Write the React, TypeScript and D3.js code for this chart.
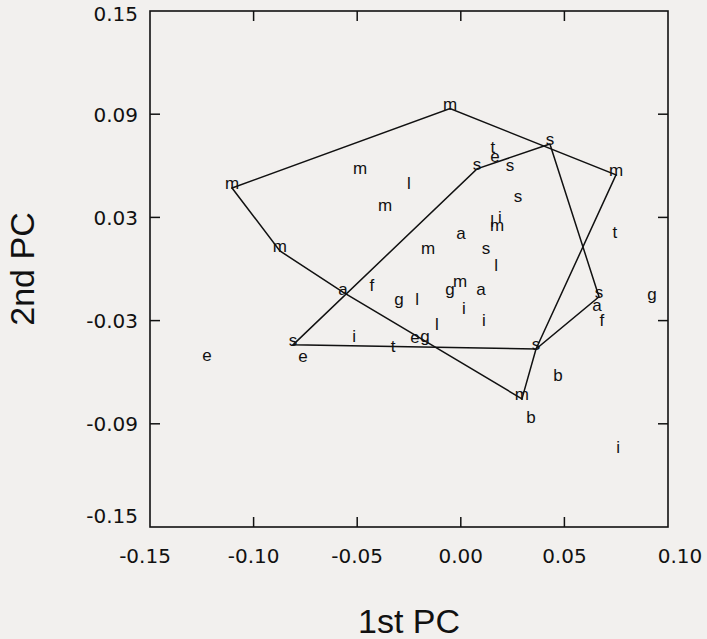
import React from "react";
import * as d3 from "d3";

// ---- data ----
const xTicks = [-0.15, -0.1, -0.05, 0.0, 0.05, 0.1];
const yTicks = [0.15, 0.09, 0.03, -0.03, -0.09, -0.15];
const xTickLabels = ["-0.15", "-0.10", "-0.05", "0.00", "0.05", "0.10"];
const yTickLabels = ["0.15", "0.09", "0.03", "-0.03", "-0.09", "-0.15"];

// letter labels (group codes) and their PC scores
const labels = [
  "m", "l", "m", "m", "f", "t", "e", "s", "s", "l", "i", "m", "a", "s", "l", "t", "g", "g",
  "m", "a", "g", "l", "i", "i", "l", "i", "t", "e", "g", "e", "e", "a", "f", "b", "b", "i",
  "m", "m", "m", "m", "m", "a", "s", "s", "s", "s", "s",
];
const pc1 = [
  -0.0486, -0.025, -0.0366, -0.0158, -0.0429, 0.0155, 0.0165, 0.0237, 0.0276, 0.0151, 0.0189,
  0.0175, 0.0001, 0.0122, 0.017, 0.0744, 0.0923, -0.0052, -0.0004, 0.0097, -0.0298, -0.0211,
  0.0015, 0.0112, -0.0115, -0.0515, -0.0327, -0.0221, -0.0173, -0.1225, -0.0762, 0.0657, 0.0681,
  0.0469, 0.0339, 0.0759,
  -0.1104, -0.0052, 0.0749, 0.0295, -0.0873, -0.0569, -0.081, 0.0078, 0.043, 0.0667, 0.0363,
];
const pc2 = [
  0.0559, 0.0474, 0.0344, 0.0094, -0.0119, 0.0683, 0.0628, 0.0576, 0.0396, 0.0253, 0.0276,
  0.0227, 0.0181, 0.0094, -0.0003, 0.0189, -0.017, -0.0141, -0.0098, -0.0145, -0.0199, -0.0201,
  -0.0253, -0.0323, -0.0346, -0.0416, -0.0474, -0.0424, -0.0415, -0.0528, -0.0534, -0.0238,
  -0.0323, -0.0642, -0.0887, -0.1061,
  0.0471, 0.0933, 0.0547, -0.0755, 0.0105, -0.0145, -0.0441, 0.0582, 0.0727, -0.0162, -0.0465,
];

// hull outlines of groups "m" and "s"
const hullMx = [-0.1104, -0.0052, 0.0749, 0.0363, 0.0295, -0.0569, -0.0873];
const hullMy = [0.0471, 0.0933, 0.0547, -0.0465, -0.0755, -0.0134, 0.0105];
const hullSx = [-0.081, 0.0078, 0.043, 0.0667, 0.0363];
const hullSy = [-0.0441, 0.0582, 0.0727, -0.0162, -0.0465];

const xTitle = "1st PC";
const yTitle = "2nd PC";

export default function App() {
  const W = 707;
  const H = 639;
  const left = 150, right = 668, top = 11, bottom = 527;
  const x = d3.scaleLinear().domain([-0.15, 0.1]).range([left, right]);
  const y = d3.scaleLinear().domain([-0.15, 0.15]).range([bottom, top]);
  const line = d3
    .line<[number, number]>()
    .x((d) => x(d[0]))
    .y((d) => y(d[1]))
    .curve(d3.curveLinearClosed);
  const hm: [number, number][] = hullMx.map((v, i) => [v, hullMy[i]]);
  const hs: [number, number][] = hullSx.map((v, i) => [v, hullSy[i]]);
  const tickFont = "'DejaVu Sans', sans-serif";
  const titleFont = "'Liberation Sans Narrow', 'Liberation Sans', Arial, sans-serif";
  const innerX = xTicks.slice(1, -1);
  const innerY = yTicks.slice(1, -1);
  // small nudges of the end labels, as in the original print
  const xLabelPos = (t: number, i: number) =>
    x(t) + (i === 0 ? -5 : i === xTicks.length - 1 ? 12 : 0);
  const yLabelPos = (t: number) => Math.max(top + 2, Math.min(bottom - 12, y(t)));
  return (
    <svg
      width={W}
      height={H}
      style={{ position: "absolute", left: 0, top: 0, background: "#f2f0ee" }}
    >
      <rect x={0} y={0} width={W} height={H} fill="#f2f0ee" />
      {/* hull lines */}
      <path d={line(hm) || ""} fill="none" stroke="#111" strokeWidth={1.5} />
      <path d={line(hs) || ""} fill="none" stroke="#111" strokeWidth={1.5} />
      {/* frame */}
      <rect
        x={left}
        y={top}
        width={right - left}
        height={bottom - top}
        fill="none"
        stroke="#111"
        strokeWidth={1.6}
      />
      {innerX.map((t) => (
        <g key={"xt" + t}>
          <line x1={x(t)} x2={x(t)} y1={bottom} y2={bottom - 10} stroke="#111" strokeWidth={1.5} />
          <line x1={x(t)} x2={x(t)} y1={top} y2={top + 10} stroke="#111" strokeWidth={1.5} />
        </g>
      ))}
      {innerY.map((t) => (
        <g key={"yt" + t}>
          <line x1={left} x2={left + 10} y1={y(t)} y2={y(t)} stroke="#111" strokeWidth={1.5} />
          <line x1={right} x2={right - 10} y1={y(t)} y2={y(t)} stroke="#111" strokeWidth={1.5} />
        </g>
      ))}
      {xTicks.map((t, i) => (
        <text
          key={"xl" + i}
          x={xLabelPos(t, i)}
          y={563}
          textAnchor="middle"
          fontFamily={tickFont}
          fontSize={20}
          fill="#111"
        >
          {xTickLabels[i]}
        </text>
      ))}
      {yTicks.map((t, i) => (
        <text
          key={"yl" + i}
          x={138}
          y={yLabelPos(t) + 7.5}
          textAnchor="end"
          fontFamily={tickFont}
          fontSize={20}
          fill="#111"
        >
          {yTickLabels[i]}
        </text>
      ))}
      {/* point letters */}
      {labels.map((lab, i) => (
        <text
          key={"p" + i}
          x={x(pc1[i])}
          y={y(pc2[i]) + 1.5}
          textAnchor="middle"
          fontFamily="'Liberation Sans', Arial, sans-serif"
          fontSize={17}
          fill="#111"
        >
          {lab}
        </text>
      ))}
      <text
        x={(left + right) / 2}
        y={633}
        textAnchor="middle"
        fontFamily={titleFont}
        fontSize={34}
        fill="#111"
      >
        {xTitle}
      </text>
      <text
        transform={`translate(34,${(top + bottom) / 2}) rotate(-90)`}
        textAnchor="middle"
        fontFamily={titleFont}
        fontSize={34}
        fill="#111"
      >
        {yTitle}
      </text>
    </svg>
  );
}
